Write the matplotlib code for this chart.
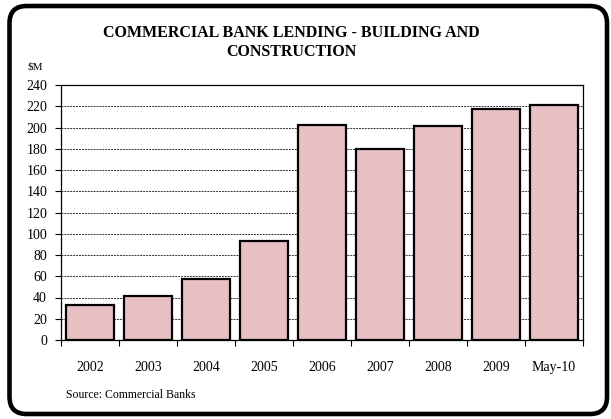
import matplotlib
matplotlib.use("Agg")
import matplotlib.pyplot as plt
from matplotlib.patches import FancyBboxPatch
import numpy as np

categories = ["2002", "2003", "2004", "2005", "2006", "2007", "2008", "2009", "May-10"]
values = [33, 41, 57, 93, 202, 180, 201, 217, 221]
yticks = list(range(0, 241, 20))

plt.rcParams['font.family'] = ['Liberation Serif', 'DejaVu Serif']

W, H = 611, 419
fig = plt.figure(figsize=(W/100, H/100), dpi=100)
fig.patch.set_facecolor('white')

# rounded frame
frame = FancyBboxPatch((9.5/W, 5/H), (607-9.5)/W, (413-5)/H,
                       boxstyle="round,pad=0,rounding_size=0.028",
                       transform=fig.transFigure, fill=False, lw=3.3, ec='black',
                       mutation_aspect=W/H)
fig.patches.append(frame)

ax = fig.add_axes([61/W, 1-340/H, (583-61)/W, (340-85)/H])
x = np.arange(len(categories))
ax.bar(x, values, width=0.83, color='#e7c0c3', edgecolor='black', linewidth=1.6, zorder=3)
ax.set_xlim(-0.5, len(categories)-0.5)
ax.set_ylim(0, 240)
ax.set_yticks(yticks)
ax.set_yticklabels([str(v) for v in yticks], fontsize=10)
ax.set_xticks(x)
ax.set_xticklabels(categories, fontsize=10)
ax.set_xticks(np.arange(-0.5, len(categories), 1), minor=True)
ax.tick_params(axis='x', which='major', length=0, pad=15)
ax.tick_params(axis='x', which='minor', length=4, width=0.8, direction='out')
ax.tick_params(axis='y', length=4, width=0.8, direction='out', pad=6)
ax.grid(axis='y', linestyle=(0, (2, 1)), color='#333333', lw=0.7, zorder=1)
for s in ax.spines.values():
    s.set_linewidth(0.9)
    s.set_color('black')

fig.text(291/W, 1-42.5/H, "COMMERCIAL BANK LENDING - BUILDING AND\nCONSTRUCTION",
         ha='center', va='center', fontsize=11.5, fontweight='bold', linespacing=1.2)
fig.text(35/W, 1-67.5/H, "$M", ha='center', va='center', fontsize=8)
fig.text(66/W, 1-395/H, "Source: Commercial Banks", ha='left', va='center', fontsize=8.5)

fig.savefig("out.png", dpi=100)
